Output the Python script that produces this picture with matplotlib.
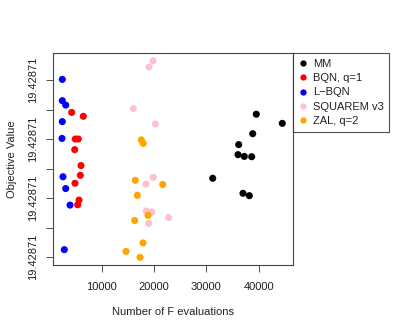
import matplotlib
matplotlib.use("Agg")
import matplotlib.pyplot as plt
from matplotlib.lines import Line2D

plt.rcParams['font.family'] = ['Liberation Sans', 'DejaVu Sans']

series_names = ["MM", "BQN, q=1", "L\u2212BQN", "SQUAREM v3", "ZAL, q=2"]
series_colors = ["black", "red", "blue", "pink", "orange"]

mm_x = [39560, 38872, 36195, 36061, 37266, 38681, 31224, 37017, 38222, 44532]
mm_y = [19.42871000484, 19.42871000418, 19.42871000381, 19.42871000347, 19.42871000341,
        19.42871000340, 19.42871000267, 19.42871000216, 19.42871000208, 19.42871000453]

bqn_x = [4264, 6482, 4952, 5526, 4838, 6042, 5908, 4895, 5660, 5411]
bqn_y = [19.42871000490, 19.42871000477, 19.42871000400, 19.42871000400, 19.42871000364,
         19.42871000310, 19.42871000277, 19.42871000250, 19.42871000193, 19.42871000177]

lbqn_x = [2467, 2467, 3117, 2467, 2409, 2600, 3117, 3939, 2849]
lbqn_y = [19.42871000602, 19.42871000530, 19.42871000515, 19.42871000459, 19.42871000402,
          19.42871000272, 19.42871000232, 19.42871000176, 19.42871000025]

sq_x = [19809, 19044, 16042, 20249, 19866, 18470, 18528, 19560, 22810, 18987]
sq_y = [19.42871000665, 19.42871000644, 19.42871000503, 19.42871000451, 19.42871000270,
        19.42871000247, 19.42871000156, 19.42871000153, 19.42871000134, 19.42871000114]

zal_x = [17572, 17954, 16424, 21663, 16807, 18853, 16310, 17897, 14646, 17323]
zal_y = [19.42871000397, 19.42871000385, 19.42871000260, 19.42871000246, 19.42871000209,
         19.42871000141, 19.42871000124, 19.42871000048, 19.42871000019, 19.42870999999]

x_ticks = [10000, 20000, 30000, 40000]
y_base = 19.42871
y_step = 1e-9
y_ticks = [y_base + k * y_step for k in range(7)]
y_labels = ["19.42871" if k % 2 == 0 else "" for k in range(7)]

fig = plt.figure(figsize=(3.99, 3.32), dpi=100)
ax = fig.add_axes([53/399, 1 - 265/332, 240/399, 212/332])

xs = [mm_x, bqn_x, lbqn_x, sq_x, zal_x]
ys = [mm_y, bqn_y, lbqn_y, sq_y, zal_y]
for x, y, c in zip(xs, ys, series_colors):
    ax.scatter(x, y, s=26, color=c, edgecolors='none', zorder=3)

ax.set_xlim(688, 46578)
ax.set_ylim(y_base - 0.27 * y_step, y_base + 6.915 * y_step)
ax.set_xticks(x_ticks)
ax.set_xticklabels([str(t) for t in x_ticks])
ax.set_yticks(y_ticks)
ax.set_yticklabels(y_labels, rotation=90, va='center')
ax.tick_params(axis='both', labelsize=8, length=5, width=0.6, color='#333333', labelcolor='#222222')
ax.tick_params(axis='x', pad=7)
ax.tick_params(axis='y', pad=6)
for sp in ax.spines.values():
    sp.set_linewidth(0.8)
    sp.set_color('#444444')

ax.set_xlabel("Number of F evaluations", fontsize=8, color='#222222', labelpad=11)
ax.set_ylabel("Objective Value", fontsize=8, color='#222222', labelpad=8)

handles = [Line2D([], [], marker='o', linestyle='none', color=c, markersize=4.5,
                  markeredgewidth=0) for c in series_colors]
leg = fig.legend(handles, series_names, loc='upper left',
                 bbox_to_anchor=(293/399, 1 - 53/332), fontsize=8, frameon=True,
                 fancybox=False, edgecolor='#222222', borderpad=0.5,
                 handlelength=0.8, handletextpad=0.5, labelspacing=0.4,
                 borderaxespad=0)
leg.get_frame().set_linewidth(0.8)
for t in leg.get_texts():
    t.set_color('#222222')

fig.savefig("out.png", dpi=100)
